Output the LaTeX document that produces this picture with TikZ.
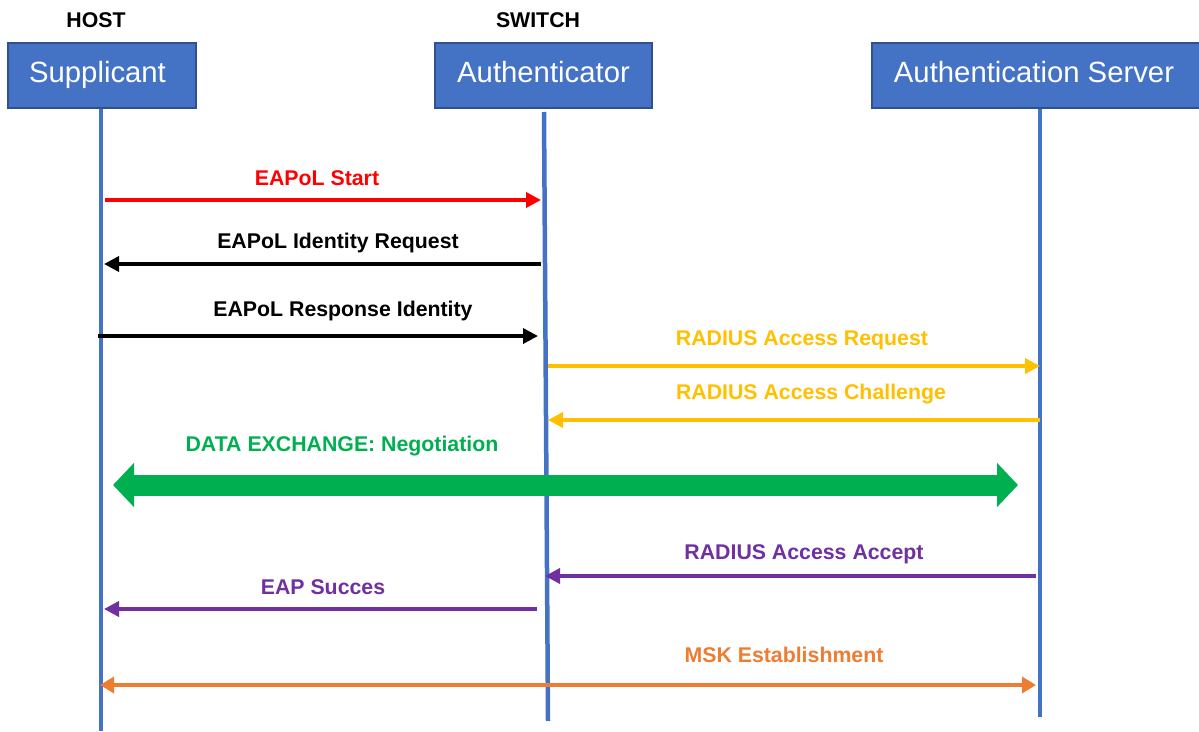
\documentclass[tikz,border=0pt]{standalone}
\usepackage{fontspec}
\setmainfont{Liberation Sans}
\usetikzlibrary{arrows.meta}
\definecolor{boxblue}{HTML}{4472C4}
\definecolor{boxedge}{HTML}{2F528F}
\definecolor{msgred}{HTML}{FF0000}
\definecolor{msgyellow}{HTML}{FFC000}
\definecolor{msggreen}{HTML}{00B050}
\definecolor{msgpurple}{HTML}{7030A0}
\definecolor{msgorange}{HTML}{ED7D31}

\begin{document}
\begin{tikzpicture}[x=1pt,y=-1pt,
  actor/.style={draw=boxedge,line width=2pt,fill=boxblue,text=white,
    font=\fontsize{29.3}{34}\selectfont,inner sep=0pt,minimum height=65pt,
    text height=22pt,text depth=9pt},
  role/.style={font=\bfseries\fontsize{21.3}{25}\selectfont},
  msglabel/.style={font=\bfseries\fontsize{21.3}{25}\selectfont},
  lifeline/.style={draw=boxblue,line width=4.5pt},
  msg/.style={line width=3.5pt,-{Triangle[length=15pt,width=15pt]}},
  bigmsg/.style={line width=21pt,{Triangle[length=21pt,width=43pt]}-{Triangle[length=21pt,width=43pt]}},
  keymsg/.style={line width=4pt,{Triangle[length=14pt,width=16pt]}-{Triangle[length=14pt,width=16pt]}}]

\useasboundingbox (0,0) rectangle (1199,731);

% role captions
\node[role] (host) at (96,20) {HOST};
\node[role] (switch) at (538,20) {SWITCH};

% participants
\node[actor,minimum width=188pt] (sup) at (102,75.5) {\hspace*{-9pt}Supplicant};
\node[actor,minimum width=217pt] (auth) at (543.5,75.5) {Authenticator};
\node[actor,minimum width=330pt] (srv) at (1037,75.5) {\hspace*{-6pt}Authentication Server};

% lifelines
\coordinate (supEnd) at (101,731);
\coordinate (authTop) at (544,112);
\coordinate (authEnd) at (548,721);
\coordinate (srvEnd) at (1040,717);
\draw[lifeline] (sup.south -| supEnd) -- (supEnd);
\draw[lifeline] (authTop) -- (authEnd);
\draw[lifeline] (srv.south -| srvEnd) -- (srvEnd);

% message end points on the lifelines
\coordinate (m1a) at (105,200);  \coordinate (m1b) at (541,200);
\coordinate (m2a) at (541,264);  \coordinate (m2b) at (104,264);
\coordinate (m3a) at (98,336);   \coordinate (m3b) at (538,336);
\coordinate (m4a) at (548,366);  \coordinate (m4b) at (1040,366);
\coordinate (m5a) at (1040,420); \coordinate (m5b) at (548,420);
\coordinate (m6a) at (113,485);  \coordinate (m6b) at (1018,485);
\coordinate (m7a) at (1036,576); \coordinate (m7b) at (545,576);
\coordinate (m8a) at (537,609);  \coordinate (m8b) at (104,609);
\coordinate (m9a) at (100,685);  \coordinate (m9b) at (1036,685);

% messages
\draw[msg,draw=msgred,fill=msgred] (m1a) -- (m1b);
\node[msglabel,text=msgred] (l1) at (317,178) {EAPoL Start};

\draw[msg,draw=black,fill=black] (m2a) -- (m2b);
\node[msglabel,text=black] (l2) at (338,243) {EAPoL Identity Request};

\draw[msg,draw=black,fill=black] (m3a) -- (m3b);
\node[msglabel,text=black] (l3) at (343,311) {EAPoL Response Identity};

\draw[msg,draw=msgyellow,fill=msgyellow] (m4a) -- (m4b);
\node[msglabel,text=msgyellow] (l4) at (802,340) {RADIUS Access Request};

\draw[msg,draw=msgyellow,fill=msgyellow] (m5a) -- (m5b);
\node[msglabel,text=msgyellow] (l5) at (811,394) {RADIUS Access Challenge};

\draw[bigmsg,draw=msggreen,fill=msggreen] (m6a) -- (m6b);
\node[msglabel,text=msggreen] (l6) at (342,446) {DATA EXCHANGE: Negotiation};

\draw[msg,draw=msgpurple,fill=msgpurple] (m7a) -- (m7b);
\node[msglabel,text=msgpurple] (l7) at (804,554) {RADIUS Access Accept};

\draw[msg,draw=msgpurple,fill=msgpurple] (m8a) -- (m8b);
\node[msglabel,text=msgpurple] (l8) at (323,587) {EAP Succes};

\draw[keymsg,draw=msgorange,fill=msgorange] (m9a) -- (m9b);
\node[msglabel,text=msgorange] (l9) at (784,655) {MSK Establishment};

\end{tikzpicture}
\end{document}
